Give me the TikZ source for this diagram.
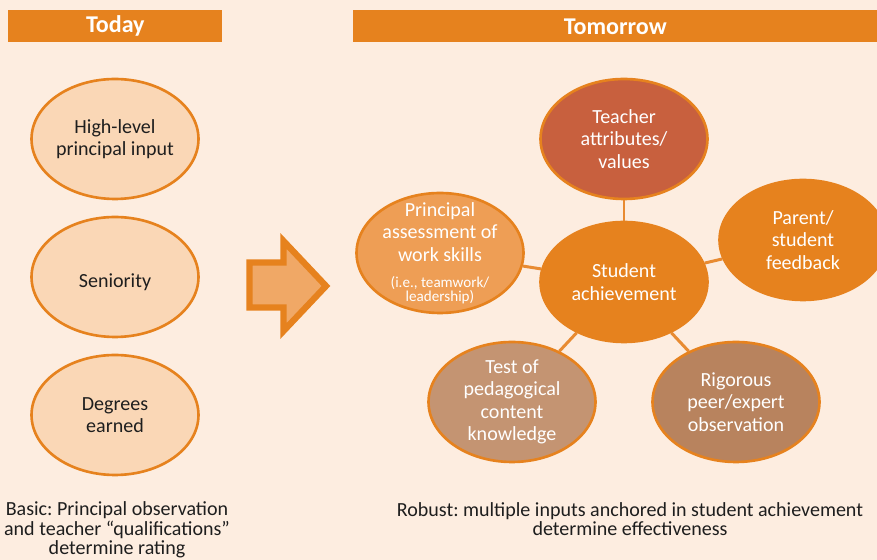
\documentclass[tikz,border=0pt]{standalone}
\usepackage{fontspec}
\setmainfont{Carlito}
\usepackage{tikz}
\usetikzlibrary{shapes.geometric,positioning}

\definecolor{bgpeach}{HTML}{FDEDE0}
\definecolor{hdrorange}{HTML}{E6821E}
\definecolor{linkorange}{HTML}{E88B32}
\definecolor{oldfill}{HTML}{FAD7B6}
\definecolor{arrowfill}{HTML}{F0A866}
\definecolor{brick}{HTML}{C8603E}
\definecolor{lightorange}{HTML}{EE9E55}
\definecolor{tan}{HTML}{C49472}
\definecolor{darktan}{HTML}{B8835E}
\definecolor{txtdark}{HTML}{1E1E1E}

\frenchspacing

\begin{document}
\begin{tikzpicture}[
    x=0.02cm, y=-0.02cm,
    header/.style={fill=hdrorange, text=white, font=\fontsize{13.7}{16}\selectfont\bfseries, inner sep=0pt, minimum height=0.64cm, anchor=north west},
    bubble/.style={ellipse, draw=hdrorange, line width=1.5pt, minimum width=3.34cm, minimum height=2.4cm, inner sep=-0.5cm, align=center, text=white, font=\fontsize{11.4}{12.8}\selectfont},
    oldbub/.style={bubble, fill=oldfill, text=txtdark},
    link/.style={draw=linkorange, line width=1.7pt},
    caption/.style={align=center, text=txtdark, font=\fontsize{11.4}{11.1}\selectfont},
]
% page
\fill[bgpeach] (0,0) rectangle (877,560);
\useasboundingbox (0,0) rectangle (877,560);

% Headers
\node[header, minimum width=4.28cm] (today) at (8,10) {Today};
\node[header, minimum width=10.48cm] (tomorrow) at (353,10) {Tomorrow};

% Today
\node[oldbub] (input) at (115,139) {High-level\\principal input};
\node[oldbub] (senior) at (115,277) {\raisebox{-6pt}[0pt][0pt]{Seniority}};
\node[oldbub] (degrees) at (115,415) {Degrees\\earned};

% Arrow between the two sides
\draw[draw=hdrorange, fill=arrowfill, line width=3.6pt, line join=miter]
    (249.5,262.5) -- (283.5,262.5) -- (283.5,241) -- (326,286)
    -- (283.5,331) -- (283.5,307.5) -- (249.5,307.5) -- cycle;

% Tomorrow
\node[bubble, fill=hdrorange] (achieve) at (624,282) {Student\\achievement};
\node[bubble, fill=brick] (attrib) at (624,139) {Teacher\\attributes/\\values};
\node[bubble, fill=lightorange] (assess) at (440,253) {Principal\\assessment of\\work skills\\[2pt]{\fontsize{8.6}{9}\selectfont (i.e., teamwork/}\\[-4.7pt]{\fontsize{8.6}{9}\selectfont leadership)}};
\node[bubble, fill=hdrorange] (parent) at (803,240) {Parent/\\student\\feedback};
\node[bubble, fill=tan] (pedtest) at (512,402) {Test of\\pedagogical\\content\\knowledge};
\node[bubble, fill=darktan] (peerobs) at (736,402) {Rigorous\\peer/expert\\observation};

% Links to the centre
\draw[link] (achieve) -- (attrib);
\draw[link] (achieve) -- (assess);
\draw[link] (achieve) -- (parent);
\draw[link] (achieve) -- (pedtest);
\draw[link] (achieve) -- (peerobs);

% Captions
\node[caption] (basic) at (117,530) {Basic: Principal observation\\and teacher “qualifications”\\determine rating};
\node[caption] (robust) at (630,519) {Robust: multiple inputs anchored in student achievement\\determine effectiveness};
\end{tikzpicture}
\end{document}
